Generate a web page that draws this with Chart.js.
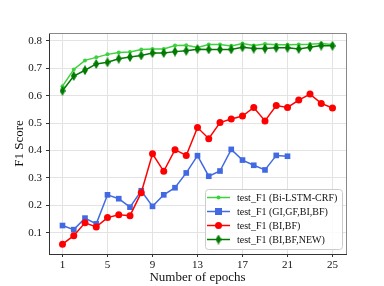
<!DOCTYPE html>
<html>
<head>
<meta charset="utf-8">
<script src="https://cdn.jsdelivr.net/npm/chart.js@4.4.1/dist/chart.umd.min.js"></script>
<style>
html, body { margin: 0; padding: 0; background: #fff; }
</style>
</head>
<body>
<canvas id="chart" width="384" height="286"></canvas>
<script>
// valeurs
const epochs = [1, 2, 3, 4, 5, 6, 7, 8, 9, 10, 11, 12, 13, 14, 15, 16, 17, 18, 19, 20, 21, 22, 23, 24, 25];
const lstmCrf = [0.635, 0.696, 0.729, 0.740, 0.751, 0.758, 0.760, 0.769, 0.771, 0.771, 0.783, 0.784, 0.776,
                 0.787, 0.787, 0.782, 0.791, 0.783, 0.789, 0.786, 0.786, 0.787, 0.788, 0.791, 0.787];
const giGfBiBf = [0.126, 0.111, 0.153, 0.132, 0.238, 0.224, 0.193, 0.253, 0.196, 0.238, 0.264, 0.318, 0.381,
                  0.306, 0.325, 0.404, 0.365, 0.346, 0.329, 0.382, 0.379];
const biBf = [0.058, 0.089, 0.136, 0.121, 0.155, 0.165, 0.162, 0.246, 0.388, 0.324, 0.403, 0.382, 0.484,
              0.443, 0.502, 0.515, 0.526, 0.557, 0.508, 0.564, 0.557, 0.584, 0.606, 0.572, 0.555];
const biBfNew = [0.618, 0.672, 0.693, 0.716, 0.722, 0.735, 0.741, 0.747, 0.756, 0.756, 0.761, 0.764, 0.770,
                 0.769, 0.769, 0.769, 0.777, 0.772, 0.772, 0.775, 0.775, 0.771, 0.777, 0.783, 0.782];
const labels = ['test_F1 (Bi-LSTM-CRF)', 'test_F1 (GI,GF,BI,BF)', 'test_F1 (BI,BF)', 'test_F1 (BI,BF,NEW)'];
const xTicks = [1, 5, 9, 13, 17, 21, 25];
const yTicks = [0.1, 0.2, 0.3, 0.4, 0.5, 0.6, 0.7, 0.8];

const SERIF = '"Liberation Serif", "DejaVu Serif", serif';

function pairs(ys) {
    return ys.map((y, i) => ({ x: epochs[i], y: y }));
}

// losange fin (style "d" de matplotlib)
function thinDiamond(color, w, h) {
    const c = document.createElement('canvas');
    c.width = w;
    c.height = h;
    const g = c.getContext('2d');
    g.fillStyle = color;
    g.beginPath();
    g.moveTo(w / 2, 0);
    g.lineTo(w, h / 2);
    g.lineTo(w / 2, h);
    g.lineTo(0, h / 2);
    g.closePath();
    g.fill();
    return c;
}

const diamond = thinDiamond('#007a00', 6, 10);

// cadre + légende dans la zone du graphique
const frameLegend = {
    id: 'frameLegend',
    afterDraw(chart) {
        const ctx = chart.ctx;
        const a = chart.chartArea;
        ctx.save();
        ctx.strokeStyle = '#888';
        ctx.lineWidth = 1;
        ctx.beginPath();
        ctx.moveTo(a.left, a.top + 0.5);
        ctx.lineTo(a.right + 0.5, a.top + 0.5);
        ctx.lineTo(a.right + 0.5, a.bottom);
        ctx.stroke();

        // légende
        const bx = 205, by = 189, bw = 137, bh = 60;
        ctx.fillStyle = 'rgba(255,255,255,0.85)';
        ctx.strokeStyle = '#ccc';
        ctx.beginPath();
        ctx.roundRect(bx + 0.5, by + 0.5, bw, bh, 3);
        ctx.fill();
        ctx.stroke();

        ctx.font = '10px ' + SERIF;
        ctx.textBaseline = 'middle';
        chart.data.datasets.forEach((ds, i) => {
            const y = by + 8.5 + i * 14;
            ctx.strokeStyle = ds.borderColor;
            ctx.lineWidth = ds.borderWidth;
            ctx.beginPath();
            ctx.moveTo(207, y);
            ctx.lineTo(230, y);
            ctx.stroke();
            const cx = 218.5;
            ctx.fillStyle = ds.pointBackgroundColor;
            if (ds.pointStyle === 'rect') {
                ctx.fillRect(cx - 3.5, y - 3.5, 7, 7);
            } else if (ds.pointStyle === 'circle') {
                ctx.beginPath();
                ctx.arc(cx, y, ds.pointRadius, 0, Math.PI * 2);
                ctx.fill();
            } else {
                ctx.drawImage(ds.pointStyle, cx - 3, y - 5);
            }
            ctx.fillStyle = '#111';
            ctx.textAlign = 'left';
            ctx.fillText(ds.label, 237, y + 0.5);
        });
        ctx.restore();
    }
};

const chart = new Chart(document.getElementById('chart'), {
    type: 'line',
    data: {
        datasets: [
            {
                label: labels[0],
                data: pairs(lstmCrf),
                borderColor: '#3dd13d',
                pointBackgroundColor: '#3dd13d',
                pointBorderWidth: 0,
                borderWidth: 1.5,
                pointStyle: 'circle',
                pointRadius: 2,
                order: 4
            },
            {
                label: labels[1],
                data: pairs(giGfBiBf),
                borderColor: '#4169e1',
                pointBackgroundColor: '#4169e1',
                pointBorderWidth: 0,
                borderWidth: 1.5,
                pointStyle: 'rect',
                pointRadius: 4,
                order: 3
            },
            {
                label: labels[2],
                data: pairs(biBf),
                borderColor: '#ff0000',
                pointBackgroundColor: '#ff0000',
                pointBorderWidth: 0,
                borderWidth: 1.5,
                pointStyle: 'circle',
                pointRadius: 3.5,
                order: 2
            },
            {
                label: labels[3],
                data: pairs(biBfNew),
                borderColor: '#007a00',
                pointBackgroundColor: '#007a00',
                pointBorderWidth: 0,
                borderWidth: 1.5,
                pointStyle: diamond,
                pointRadius: 4,
                order: 1
            }
        ]
    },
    options: {
        responsive: false,
        animation: false,
        layout: { padding: { top: 33, right: 38, left: 0, bottom: 0 } },
        plugins: {
            legend: { display: false },
            tooltip: { enabled: false }
        },
        elements: { line: { tension: 0 } },
        scales: {
            x: {
                type: 'linear',
                min: -0.2,
                max: 26.2,
                afterBuildTicks: s => { s.ticks = xTicks.map(v => ({ value: v })); },
                afterFit: s => { s.height = 32; },
                ticks: {
                    color: '#111',
                    font: { family: SERIF, size: 11 },
                    padding: 2,
                    maxRotation: 0
                },
                grid: { color: '#e3e3e3', tickColor: '#333', tickLength: 3 },
                border: { color: '#333', width: 1 },
                title: {
                    display: true,
                    text: 'Number of epochs',
                    color: '#111',
                    font: { family: SERIF, size: 13 },
                    padding: { top: 0, bottom: 1 }
                }
            },
            y: {
                min: 0.022,
                max: 0.829,
                afterBuildTicks: s => { s.ticks = yTicks.map(v => ({ value: v })); },
                afterFit: s => { s.width = 49; },
                ticks: {
                    color: '#111',
                    font: { family: SERIF, size: 11 },
                    padding: 4,
                    callback: v => v.toFixed(1)
                },
                grid: { color: '#e3e3e3', tickColor: '#333', tickLength: 3 },
                border: { color: '#333', width: 1 },
                title: {
                    display: true,
                    text: 'F1 Score',
                    color: '#111',
                    font: { family: SERIF, size: 13 },
                    padding: { top: 12, bottom: 0 }
                }
            }
        }
    },
    plugins: [frameLegend]
});
</script>
</body>
</html>
